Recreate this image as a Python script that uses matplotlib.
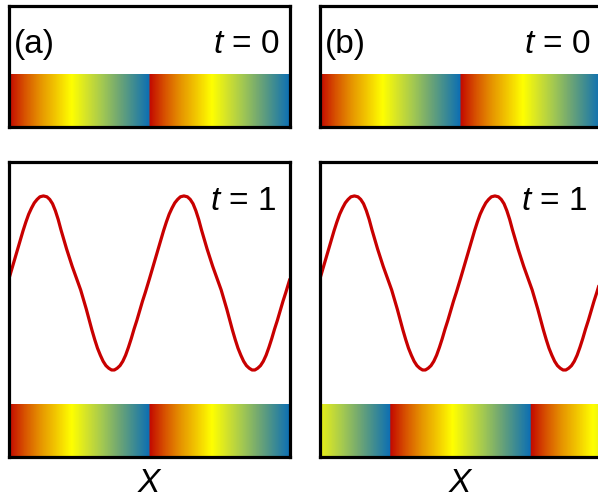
import numpy as np
import matplotlib.pyplot as plt
from matplotlib.colors import LinearSegmentedColormap

plt.rcParams['font.family'] = ['Liberation Sans', 'DejaVu Sans']
plt.rcParams['mathtext.fontset'] = 'custom'
plt.rcParams['mathtext.rm'] = 'Liberation Sans'
plt.rcParams['mathtext.it'] = 'Liberation Sans:italic'

# wave profile over one wavelength (phase, height)
wave_phase = [0.00, 0.02, 0.04, 0.06, 0.08, 0.10, 0.12, 0.14, 0.16, 0.18, 0.20,
              0.22, 0.245, 0.27, 0.29, 0.31, 0.33, 0.35, 0.37, 0.39, 0.41, 0.43,
              0.45, 0.47, 0.49, 0.51, 0.53, 0.55, 0.57, 0.59, 0.61, 0.63, 0.65,
              0.67, 0.69, 0.71, 0.73, 0.75, 0.77, 0.79, 0.81, 0.83, 0.85, 0.87,
              0.89, 0.91, 0.93, 0.95, 0.97]
wave_height = [0.05, 0.16, 0.27, 0.38, 0.49, 0.60, 0.70, 0.79, 0.86, 0.92, 0.96,
               0.99, 1.00, 0.99, 0.96, 0.91, 0.83, 0.73, 0.61, 0.50, 0.39, 0.29,
               0.19, 0.10, 0.01, -0.08, -0.19, -0.30, -0.42, -0.54, -0.65, -0.75,
               -0.83, -0.90, -0.95, -0.98, -1.00, -1.00, -0.98, -0.95, -0.90,
               -0.83, -0.74, -0.64, -0.53, -0.43, -0.32, -0.21, -0.11]
n_waves = 2

panel_labels = ['(a)', '(b)']
# phase offset of the colour strip at t = 0 and t = 1
strip_offset_t0 = [0.0, 0.0]
strip_offset_t1 = [0.0, 0.5]

strip_colors = ['#c40a00', '#d85400', '#e69400', '#f2c800', '#ffff00',
                '#d2e22c', '#a2c852', '#72a872', '#3f8c92', '#0d6fb3']
cmap = LinearSegmentedColormap.from_list('phase', strip_colors)

# curve over the two wavelengths
xs, ys = [], []
for k in range(n_waves):
    xs += [p + k for p in wave_phase]
    ys += wave_height
xs.append(n_waves)
ys.append(wave_height[0])

fig = plt.figure(figsize=(5.98, 4.99), dpi=100)

W, H = 598, 499
lefts = [9, 320]
width = 281


def strip(ax, offset):
    xg = np.linspace(0, n_waves, 600)
    phase = ((xg + offset) % 1.0)[None, :]
    ax.imshow(phase, cmap=cmap, vmin=0, vmax=1, aspect='auto',
              extent=[0, n_waves, -2.0, -1.4], interpolation='bilinear', zorder=1)


def style(ax):
    ax.set_xticks([])
    ax.set_yticks([])
    for s in ax.spines.values():
        s.set_linewidth(2.3)
        s.set_zorder(5)


for i in range(2):
    # top panel, t = 0
    ax0 = fig.add_axes([lefts[i] / W, 1 - 127 / H, width / W, 121 / H])
    strip(ax0, strip_offset_t0[i])
    ax0.set_xlim(0, n_waves)
    ax0.set_ylim(-2.0, -0.61)
    style(ax0)
    ax0.text(0.018, 0.61, panel_labels[i], transform=ax0.transAxes,
             fontsize=24, ha='left', va='baseline')
    ax0.text(0.963, 0.61, '$t$ = 0', transform=ax0.transAxes,
             fontsize=24, ha='right', va='baseline')

    # bottom panel, t = 1
    ax1 = fig.add_axes([lefts[i] / W, 1 - 457 / H, width / W, 295 / H])
    ax1.plot(xs, ys, color='#c80000', lw=2.3, zorder=3,
             solid_joinstyle='round', solid_capstyle='butt')
    strip(ax1, strip_offset_t1[i])
    ax1.set_xlim(0, n_waves)
    ax1.set_ylim(-2.0, 1.39)
    style(ax1)
    ax1.text(0.952, 0.837, '$t$ = 1', transform=ax1.transAxes,
             fontsize=24, ha='right', va='baseline')
    ax1.text(0.5, -0.12, '$X$', transform=ax1.transAxes,
             fontsize=24, ha='center', va='baseline')

fig.savefig('out.png', dpi=100)
